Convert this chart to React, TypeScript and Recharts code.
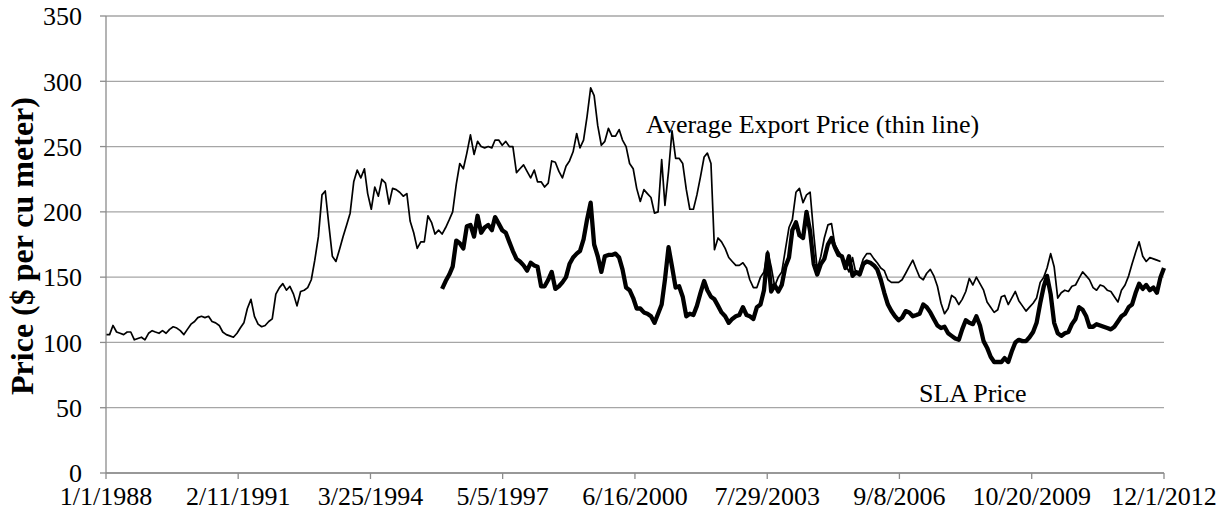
import { LineChart, Line, XAxis, YAxis, CartesianGrid, ReferenceDot } from "recharts";

// monthly values, first month = Jan 1988
const averageExportPrice = [
  106, 106, 113, 108, 107, 106, 108, 108, 102, 103, 104, 102, // 1988
  107, 109, 108, 107, 109, 107, 110, 112, 111, 109, 106, 110, // 1989
  114, 116, 119, 120, 119, 120, 116, 115, 113, 108, 106, 105, // 1990
  104, 107, 111, 115, 126, 133, 120, 114, 112, 113, 116, 118, // 1991
  137, 142, 145, 140, 143, 137, 128, 139, 140, 142, 148, 163, // 1992
  181, 213, 216, 190, 166, 162, 171, 181, 190, 199, 223, 232, // 1993
  226, 233, 214, 202, 219, 212, 225, 222, 206, 218, 217, 215, // 1994
  212, 214, 193, 184, 172, 177, 177, 197, 192, 183, 186, 183, // 1995
  188, 194, 200, 221, 237, 233, 245, 259, 244, 254, 250, 249, // 1996
  250, 249, 255, 255, 251, 254, 250, 250, 230, 233, 236, 231, // 1997
  226, 232, 223, 223, 219, 222, 239, 238, 231, 226, 235, 239, // 1998
  246, 260, 249, 255, 273, 295, 289, 266, 251, 254, 264, 258, // 1999
  258, 263, 255, 250, 237, 233, 218, 208, 217, 214, 211, 199, // 2000
  200, 240, 205, 231, 262, 241, 241, 237, 217, 202, 202, 213, // 2001
  227, 242, 245, 237, 171, 180, 177, 172, 165, 162, 159, 159, // 2002
  161, 157, 148, 142, 142, 150, 154, 170, 158, 143, 150, 154, // 2003
  171, 188, 194, 215, 218, 207, 213, 215, 183, 156, 166, 180, // 2004
  190, 191, 175, 170, 166, 160, 154, 165, 152, 155, 164, 168, // 2005
  168, 164, 161, 157, 155, 148, 146, 146, 146, 148, 153, 158, // 2006
  163, 156, 150, 148, 153, 156, 151, 143, 130, 122, 126, 136, // 2007
  134, 129, 133, 139, 149, 144, 150, 145, 140, 131, 127, 123, // 2008
  125, 135, 136, 129, 134, 139, 132, 128, 124, 127, 130, 134, // 2009
  146, 150, 157, 168, 158, 134, 138, 140, 139, 143, 144, 149, // 2010
  154, 151, 148, 142, 140, 144, 143, 140, 139, 135, 131, 140, // 2011
  144, 151, 160, 169, 177, 166, 162, 165, 164, 163, 162, // 2012
];

// SLA series starts Dec 1995 (month index 95)
const SLA_START = 95;
const slaPrice = [
  141, // 1995
  147, 152, 158, 178, 176, 172, 189, 190, 181, 197, 184, 188, // 1996
  190, 186, 196, 191, 186, 184, 177, 170, 164, 162, 159, 155, // 1997
  161, 159, 158, 143, 143, 148, 154, 141, 143, 146, 150, 160, // 1998
  165, 168, 170, 179, 194, 207, 175, 166, 154, 166, 167, 167, // 1999
  168, 165, 156, 142, 140, 134, 126, 126, 123, 122, 120, 115, // 2000
  122, 129, 148, 173, 158, 142, 143, 135, 120, 122, 121, 128, // 2001
  138, 147, 140, 135, 133, 128, 123, 120, 115, 118, 120, 121, // 2002
  127, 121, 120, 118, 127, 129, 140, 168, 139, 144, 139, 144, // 2003
  158, 165, 186, 192, 182, 180, 200, 185, 160, 152, 160, 164, // 2004
  175, 180, 173, 167, 166, 157, 166, 151, 154, 152, 160, 162, // 2005
  161, 159, 156, 148, 138, 129, 124, 120, 117, 119, 124, 123, // 2006
  120, 121, 122, 129, 127, 123, 118, 113, 111, 112, 107, 105, // 2007
  103, 102, 110, 117, 115, 114, 120, 113, 101, 96, 89, 85, // 2008
  85, 85, 88, 85, 93, 100, 102, 101, 101, 104, 108, 115, // 2009
  130, 143, 151, 137, 115, 107, 105, 107, 108, 114, 118, 127, // 2010
  125, 120, 112, 112, 114, 113, 112, 111, 110, 112, 116, 120, // 2011
  122, 127, 129, 138, 145, 141, 144, 140, 142, 138, 150, 157, // 2012
];

const xTickLabels = [
  "1/1/1988",
  "2/11/1991",
  "3/25/1994",
  "5/5/1997",
  "6/16/2000",
  "7/29/2003",
  "9/8/2006",
  "10/20/2009",
  "12/1/2012",
];
const yTicks = [0, 50, 100, 150, 200, 250, 300, 350];

const FONT = '"Liberation Serif", "Times New Roman", serif';
const DAY_MS = 86400000;
const BASE = Date.UTC(1988, 0, 1);

const dayOf = (y: number, m: number, d: number) => Math.round((Date.UTC(y, m, d) - BASE) / DAY_MS);
const parseLabel = (s: string) => {
  const [mo, d, y] = s.split("/").map(Number);
  return dayOf(y, mo - 1, d);
};

const xTicks = xTickLabels.map(parseLabel);
const labelByDay: Record<number, string> = {};
xTickLabels.forEach((l, i) => (labelByDay[xTicks[i]] = l));

const months = Math.max(averageExportPrice.length, SLA_START + slaPrice.length);
const data = Array.from({ length: months }, (_, i) => ({
  day: dayOf(1988, i, 1),
  exportPrice: i < averageExportPrice.length ? averageExportPrice[i] : null,
  sla: i >= SLA_START ? slaPrice[i - SLA_START] : null,
}));

const tickStyle = { fill: "#000", fontSize: 26, fontFamily: FONT };

function YTitle({ viewBox }: any) {
  const cx = 22;
  const cy = viewBox.y + viewBox.height / 2 + 1.5;
  return (
    <text
      x={cx}
      y={cy}
      transform={`rotate(-90 ${cx} ${cy})`}
      textAnchor="middle"
      dominantBaseline="central"
      fontFamily={FONT}
      fontSize={32}
      fontWeight="bold"
      fill="#000"
    >
      Price ($ per cu meter)
    </text>
  );
}

export default function App() {
  // offset the body margin so the svg covers the whole window
  return (
    <div style={{ width: 1228, height: 519, margin: "-8px 0 0 -8px" }}>
      <LineChart width={1228} height={519} data={data} margin={{ top: 16, right: 64, bottom: 6, left: 16 }}>
        <CartesianGrid vertical={false} stroke="#a6a6a6" strokeWidth={1.3} />
        <XAxis
          type="number"
          dataKey="day"
          domain={[0, xTicks[xTicks.length - 1]]}
          ticks={xTicks}
          interval={0}
          tickFormatter={(v: number) => labelByDay[v] ?? ""}
          tick={tickStyle}
          tickSize={6}
          tickMargin={8}
          height={40}
          stroke="#8c8c8c"
          strokeWidth={1.3}
        />
        <YAxis
          domain={[0, 350]}
          ticks={yTicks}
          interval={0}
          tick={tickStyle}
          tickSize={6}
          tickMargin={18}
          width={90}
          stroke="#8c8c8c"
          strokeWidth={1.3}
          label={{ content: (p: any) => <YTitle viewBox={p.viewBox} /> }}
        />
        <Line
          type="linear"
          dataKey="exportPrice"
          stroke="#000"
          strokeWidth={1.7}
          dot={false}
          strokeLinejoin="round"
          isAnimationActive={false}
        />
        <Line
          type="linear"
          dataKey="sla"
          stroke="#000"
          strokeWidth={4.3}
          dot={false}
          strokeLinejoin="round"
          isAnimationActive={false}
        />
        <ReferenceDot
          x={dayOf(2000, 8, 11)}
          y={267.5}
          r={1}
          fill="none"
          stroke="none"
          label={{ value: "Average Export Price (thin line)", position: "right", offset: 0, ...tickStyle }}
        />
        <ReferenceDot
          x={dayOf(2007, 1, 15)}
          y={61.3}
          r={1}
          fill="none"
          stroke="none"
          label={{ value: "SLA Price", position: "right", offset: 0, ...tickStyle }}
        />
      </LineChart>
    </div>
  );
}
